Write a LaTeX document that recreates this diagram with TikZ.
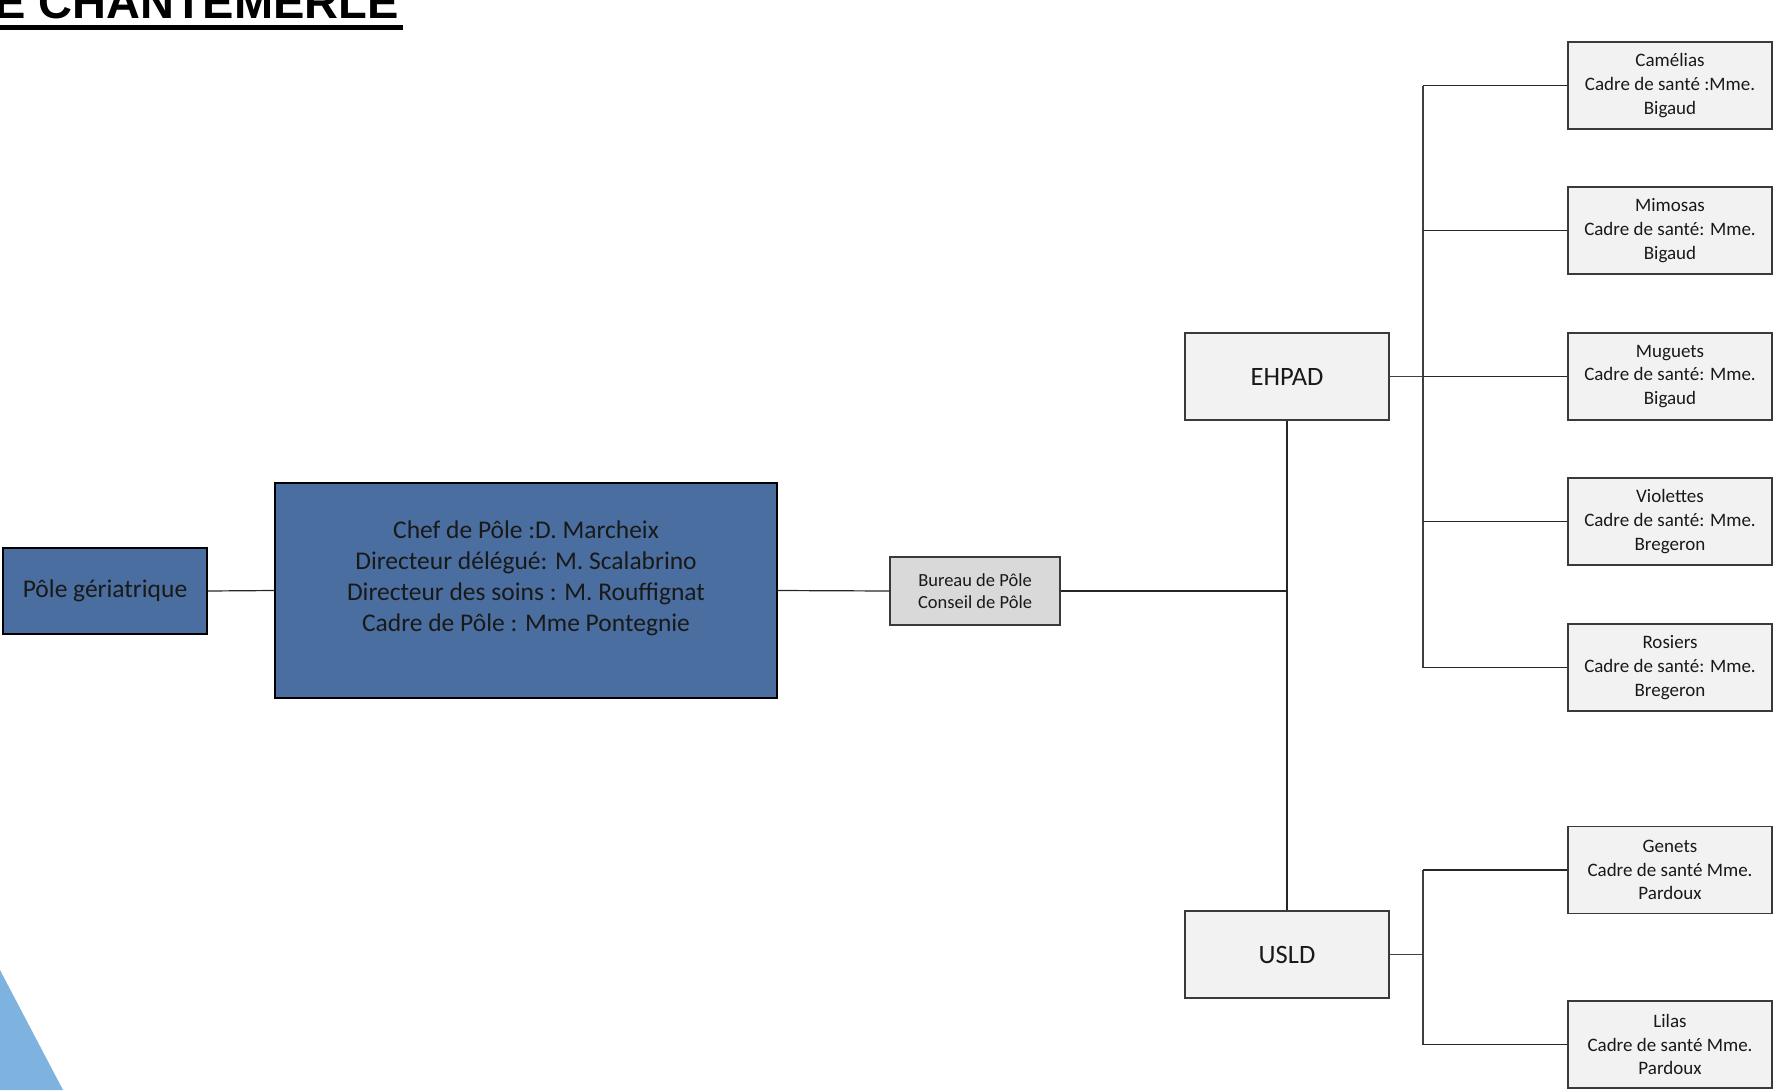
\documentclass[tikz,border=0pt]{standalone}
\usepackage{fontspec}
\setmainfont{Carlito}
\newfontfamily\titlefont{Liberation Sans}
\definecolor{poleblue}{HTML}{4A6E9F}
\definecolor{tribleu}{HTML}{7EB3DF}
\definecolor{boxgray}{HTML}{F2F2F2}
\definecolor{burgray}{HTML}{D9D9D9}
\definecolor{edge}{HTML}{3A3A3A}
\tikzset{
  bluebox/.style={draw=black, line width=1.2pt, fill=poleblue, inner sep=0pt, align=center, text=black!90},
  graybox/.style={draw=edge, line width=1.2pt, fill=boxgray, inner sep=0pt, align=center, text=black!90},
  unitbox/.style={graybox, minimum width=204pt, minimum height=87pt, font=\fontsize{19}{23.8}\selectfont},
  conn/.style={draw=black!85, line width=1.2pt},
  stem/.style={draw=black!75, line width=1.8pt}
}
\begin{document}
\begin{tikzpicture}[x=1pt,y=-1pt]
\useasboundingbox (0,0) rectangle (1775,1090);
\begin{scope}
\clip (0,0) rectangle (1775,1090);
\fill[tribleu] (0,970) -- (63,1090) -- (0,1090) -- cycle;
\node[anchor=base east, inner sep=0pt, font=\titlefont\bfseries\fontsize{47}{50}\selectfont] (title) at (399,18) {E CHANTEMERLE};
\draw[line width=5pt] (-5,27.5) -- (403,27.5);
\end{scope}

\node[bluebox, minimum width=204pt, minimum height=86pt, font=\fontsize{25.5}{30}\selectfont] (pg) at (105,591) {Pôle gériatrique};
\node[bluebox, minimum width=502pt, minimum height=215pt] (chef) at (526,590.5) {};
\node[inner sep=0pt, align=center, text=black!90, font=\fontsize{25.5}{31}\selectfont] (cheftext) at (526,578)
  {Chef de Pôle :D. Marcheix\\Directeur délégué: M. Scalabrino\\Directeur des soins : M. Rouffignat\\Cadre de Pôle : Mme Pontegnie};
\node[graybox, fill=burgray, minimum width=170pt, minimum height=68pt, font=\fontsize{18.5}{22.6}\selectfont] (bureau) at (975,591) {Bureau de Pôle\\Conseil de Pôle};
\node[graybox, minimum width=204pt, minimum height=87pt, font=\fontsize{26.5}{30}\selectfont] (ehpad) at (1287,376.5) {EHPAD};
\node[graybox, minimum width=204pt, minimum height=87pt, font=\fontsize{26.5}{30}\selectfont] (usld) at (1287,954.5) {USLD};

\node[unitbox] (cam) at (1670,85.5) {Camélias\\Cadre de santé :Mme.\\Bigaud};
\node[unitbox] (mim) at (1670,230.5) {Mimosas\\Cadre de santé: Mme.\\Bigaud};
\node[unitbox] (mug) at (1670,376.5) {Muguets\\Cadre de santé: Mme.\\Bigaud};
\node[unitbox] (vio) at (1670,521.5) {Violettes\\Cadre de santé: Mme.\\Bregeron};
\node[unitbox] (ros) at (1670,667.5) {Rosiers\\Cadre de santé: Mme.\\Bregeron};
\node[unitbox] (gen) at (1670,870) {Genets\\Cadre de santé Mme.\\Pardoux};
\node[unitbox] (lil) at (1670,1044.5) {Lilas\\Cadre de santé Mme.\\Pardoux};

\coordinate (eb) at (1423,376.5);
\coordinate (ub) at (1423,954.5);
\coordinate (j) at (ehpad.south |- bureau.east);

\draw[conn] (pg.east) -- (chef.west);
\draw[conn] (chef.east) -- (bureau.west);
\draw[conn] (bureau.east) -- (j);
\draw[conn] (ehpad.south) -- (usld.north);

\draw[stem] (ehpad.east) -- (eb);
\draw[stem] (cam.west -| eb) -- (ros.west -| eb);
\foreach \b in {cam,mim,mug,vio,ros}{\draw[conn] (\b.west -| eb) -- (\b.west);}

\draw[stem] (usld.east) -- (ub);
\draw[stem] (gen.west -| ub) -- (lil.west -| ub);
\foreach \b in {gen,lil}{\draw[conn] (\b.west -| ub) -- (\b.west);}
\end{tikzpicture}
\end{document}
